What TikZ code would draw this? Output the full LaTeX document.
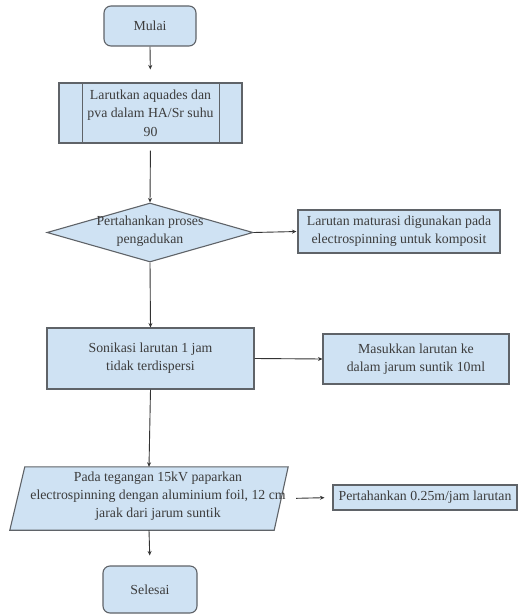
\documentclass[tikz,border=0pt]{standalone}
\usepackage{fontspec}
\setmainfont{Liberation Serif}
\usetikzlibrary{shapes.geometric,arrows.meta}
\definecolor{boxfill}{HTML}{CFE2F3}
\definecolor{boxline}{HTML}{5F6368}
\definecolor{txt}{HTML}{3C3C3C}
\begin{document}
\begin{tikzpicture}[x=1pt,y=-1pt,
  base/.style={draw=boxline,fill=boxfill,line width=1.1pt,inner sep=0pt,align=center,
    font=\fontsize{13.8}{18}\selectfont,text=txt},
  term/.style={base,rounded corners=7pt},
  rbox/.style={base},
  ghost/.style={inner sep=0pt,align=center,font=\fontsize{13.8}{18}\selectfont,text=txt},
  arr/.style={draw=black!80,line width=0.9pt,-{Stealth[length=4.5pt,width=4pt]}}]
\useasboundingbox (0,0) rectangle (519,615);

% Mulai
\node[term,minimum width=92pt,minimum height=40pt] (start) at (150,26) {Mulai};
% predefined process
\node[rbox,minimum width=183pt,minimum height=60pt,font=\fontsize{13.8}{18.5}\selectfont] (p1) at (150.5,113) {Larutkan aquades dan\\pva dalam HA/Sr suhu\\90};
\draw[boxline,line width=1.1pt] ([xshift=24pt]p1.north west) -- ([xshift=24pt]p1.south west)
  ([xshift=-23pt]p1.north east) -- ([xshift=-23pt]p1.south east);
% diamond
\node[draw=boxline,fill=boxfill,line width=1.1pt,diamond,inner sep=0pt,minimum width=206pt,
  minimum height=59pt,shape aspect=3.5] (d1) at (150,232.5) {};
\node[ghost] (d1t) at (150,231) {Pertahankan proses\\pengadukan};
% maturasi
\node[rbox,minimum width=202pt,minimum height=43pt] (m1) at (399,231.5) {Larutan maturasi digunakan pada\\electrospinning untuk komposit};
% sonikasi
\node[rbox,minimum width=207pt,minimum height=61pt] (s1) at (150.5,358.5) {Sonikasi larutan 1 jam\\tidak terdispersi};
% masukkan
\node[rbox,minimum width=186pt,minimum height=50pt] (k1) at (416,359) {Masukkan larutan ke\\dalam jarum suntik 10ml};
% parallelogram (io)
\node[inner sep=0pt,minimum width=278pt,minimum height=63pt] (io) at (149,498.5) {};
\draw[draw=boxline,fill=boxfill,line width=1.1pt] (io.south west) -- ([xshift=15pt]io.north west)
  -- (io.north east) -- ([xshift=-14pt]io.south east) -- cycle;
\node[ghost] (iot) at (158,496.5) {Pada tegangan 15kV paparkan\\electrospinning dengan aluminium foil, 12 cm\\jarak dari jarum suntik};
% pertahankan
\node[rbox,minimum width=184pt,minimum height=25pt] (r1) at (425,497.5) {Pertahankan 0.25m/jam larutan};
% Selesai
\node[term,minimum width=94pt,minimum height=47pt] (end) at (150,589.5) {Selesai};

% connectors
\draw[arr,shorten >=13pt] (start.south) -- (p1.north);
\draw[arr,shorten <=7pt] (p1.south) -- (d1.north);
\draw[arr,shorten >=1pt] (d1.east) -- (m1.west);
\draw[arr] (d1.south) -- (s1.north);
\draw[arr] (s1.east) -- (k1.west);
\draw[arr] (s1.south) -- (io.north);
\draw[arr,shorten <=8pt,shorten >=8pt] (io.east) -- (r1.west);
\draw[arr,shorten >=10pt] (io.south) -- (end.north);
\end{tikzpicture}
\end{document}
